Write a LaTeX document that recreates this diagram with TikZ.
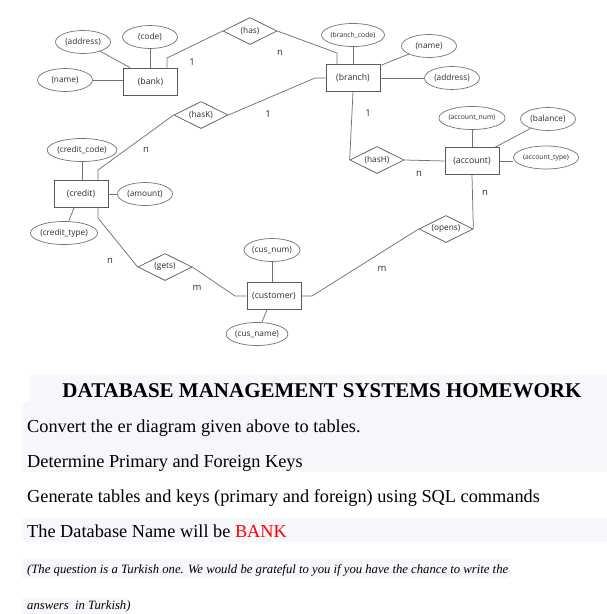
\documentclass[tikz,border=0pt]{standalone}
\usepackage{fontspec}
\setmainfont{Liberation Serif}
\newfontfamily\erfont{Open Sans}
\usetikzlibrary{shapes.geometric}
\definecolor{ln}{RGB}{115,115,115}
\definecolor{bx}{RGB}{90,90,90}
\definecolor{bg}{RGB}{246,247,250}
\definecolor{ertext}{RGB}{45,45,45}
\begin{document}
\begin{tikzpicture}[x=1pt,y=-1pt,
  ent/.style={draw=bx, line width=0.8pt, rectangle, minimum width=54pt, minimum height=27pt, inner sep=0pt, text=ertext, font=\erfont\fontsize{8.7}{10}\selectfont},
  attr/.style={draw=ln, ellipse, line width=0.7pt, minimum width=55pt, minimum height=23pt, inner sep=0pt, text=ertext, font=\erfont\fontsize{8.3}{9}\selectfont},
  attrsmall/.style={attr, font=\erfont\fontsize{6.8}{8}\selectfont},
  rel/.style={draw=bx, diamond, line width=0.7pt, shape aspect=2, minimum width=54pt, minimum height=27pt, inner sep=0pt, text=ertext, font=\erfont\fontsize{8.3}{9}\selectfont},
  conn/.style={draw=ln, line width=0.75pt},
  card/.style={font=\erfont\fontsize{9.5}{10}\selectfont, text=ertext, inner sep=0pt},
  body/.style={anchor=base west, inner sep=0pt, font=\fontsize{18.3}{20}\selectfont},
  note/.style={anchor=base west, inner sep=0pt, font=\itshape\fontsize{12.7}{14}\selectfont}
]
\useasboundingbox (0,0) rectangle (607,614);
\fill[white] (0,0) rectangle (607,614);
% background bands
\fill[bg] (30,375) rectangle (607,402);
\fill[bg] (22,402) rectangle (607,472);
\fill[bg] (22,518) rectangle (607,542);
\fill[bg] (22,559) rectangle (510,578);
\fill[bg] (22,598) rectangle (127,614);

% entities, attributes, relationships
\node[ent] (bank) at (150.5,81.5) {(bank)};
\node[attr] (baddr) at (83,42) {(address)};
\node[attr] (bcode) at (150,37) {(code)};
\node[attr] (bname) at (65,80) {(name)};
\node[rel] (has) at (250,31) {(has)};
\node[ent] (branch) at (353,78) {(branch)};
\node[attrsmall] (brcode) at (353,35) {(branch\_code)};
\node[attr] (brname) at (429,46) {(name)};
\node[attr] (braddr) at (452,78) {(address)};
\node[rel] (hask) at (201,115) {(hasK)};
\node[rel] (hash) at (377,160) {(hasH)};
\node[ent] (account) at (472,161) {(account)};
\node[attrsmall] (accnum) at (472,118) {(account\_num)};
\node[attr] (bal) at (548,119) {(balance)};
\node[attrsmall] (acctype) at (546,157.5) {(account\_type)};
\node[rel] (opens) at (446,229) {(opens)};
\node[ent] (customer) at (274,296) {(customer)};
\node[attr] (cusnum) at (272,250) {(cus\_num)};
\node[attr] (cusname) at (257,334) {(cus\_name)};
\node[rel] (gets) at (165,267) {(gets)};
\node[ent] (credit) at (81,194) {(credit)};
\node[attr] (ccode) at (82,150) {(credit\_code)};
\node[attr] (amount) at (145,194) {(amount)};
\node[attr] (ctype) at (64,233) {(credit\_type)};

% bend points
\coordinate (b1) at (167,58);
\coordinate (h1) at (337,53);
\coordinate (k1) at (315,78);
\coordinate (k2) at (98,170);
\coordinate (c1) at (98,218);
\coordinate (o1) at (312,296);
\coordinate (g1) at (235,296);

% connectors
\draw[conn] (baddr) -- ([xshift=7pt]bank.north west);
\draw[conn] (bcode.south) -- (bcode.south |- bank.north);
\draw[conn] (bname.east) -- (bname.east -| bank.west);
\draw[conn] (b1 |- bank.north) -- (b1) -- (has.west);
\draw[conn] (has.east) -- (h1) -- (h1 |- branch.north);
\draw[conn] (brcode.south) -- (branch.north);
\draw[conn] (brname) -- ([xshift=1pt,yshift=-1pt]branch.north east);
\draw[conn] (branch.east) -- (braddr.west);
\draw[conn] (hask.east) -- (k1) -- (branch.west);
\draw[conn] (hask.west) -- (k2) -- (k2 |- credit.north);
\draw[conn] (branch.south) -- (hash.west);
\draw[conn] (hash.east) -- (account.west);
\draw[conn] (accnum.south) -- (account.north);
\draw[conn] (bal) -- ([xshift=-4pt]account.north east);
\draw[conn] (account.east) -- (account.east -| acctype.west);
\draw[conn] (account.south) -- (opens.east);
\draw[conn] (opens.west) -- (o1) -- (customer.east);
\draw[conn] (gets.east) -- (g1) -- (customer.west);
\draw[conn] (c1 |- credit.south) -- (c1) -- (gets.west);
\draw[conn] (cusnum.south) -- (cusnum.south |- customer.north);
\draw[conn] ([xshift=-7pt]customer.south) -- (cusname);
\draw[conn] (ccode.south) -- (ccode.south |- credit.north);
\draw[conn] (credit.east) -- (amount.west);
\draw[conn] ([xshift=-7pt]credit.south) -- (ctype);

% cardinalities
\node[card] (c1a) at (192,62) {1};
\node[card] (c1b) at (280,53) {n};
\node[card] (c2a) at (268,114) {1};
\node[card] (c2b) at (146,150) {n};
\node[card] (c3a) at (368,113) {1};
\node[card] (c3b) at (419,174) {n};
\node[card] (c4a) at (485,193) {n};
\node[card] (c4b) at (382,269) {m};
\node[card] (c5a) at (110,261) {n};
\node[card] (c5b) at (197,288) {m};

% text
\node[anchor=base, inner sep=0pt, font=\bfseries\fontsize{21}{24}\selectfont] (title) at (322,397) {DATABASE MANAGEMENT SYSTEMS HOMEWORK};
\node[body] (t1) at (27,432) {Convert the er diagram given above to tables.};
\node[body] (t2) at (27,467) {Determine Primary and Foreign Keys};
\node[body] (t3) at (27,502) {Generate tables and keys (primary and foreign) using SQL commands};
\node[body] (t4) at (27,537) {The Database Name will be \textcolor{red}{BANK}};
\node[note] (t5) at (27,573) {(The question is a Turkish one. We would be grateful to you if you have the chance to write the};
\node[note] (t6) at (27,609) {answers\ \ in Turkish)};
\end{tikzpicture}
\end{document}
